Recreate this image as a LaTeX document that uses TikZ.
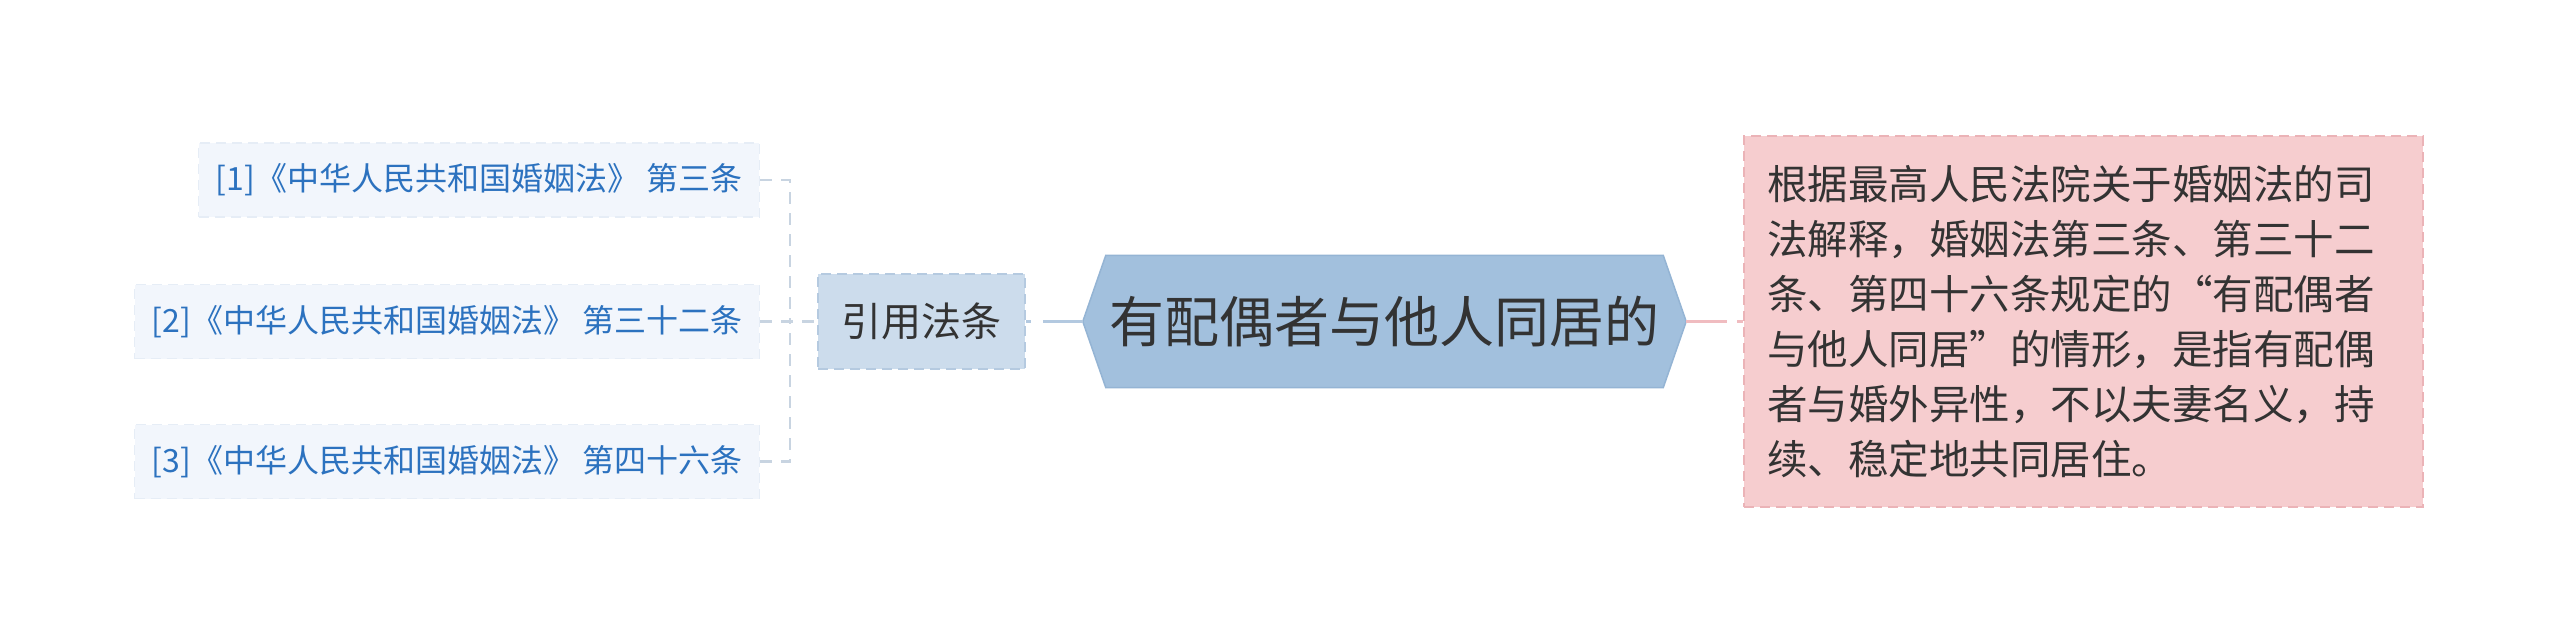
\documentclass[tikz,border=0pt]{standalone}
\usepackage{fontspec}
\setmainfont{Noto Sans CJK SC}
\usetikzlibrary{backgrounds}
\definecolor{itemfill}{HTML}{F2F6FC}
\definecolor{itemborder}{HTML}{E6EDF6}
\definecolor{itemtext}{HTML}{2C72BF}
\definecolor{citefill}{HTML}{CCDCEC}
\definecolor{citeborder}{HTML}{B5CAE0}
\definecolor{hexfill}{HTML}{A2C0DD}
\definecolor{hexborder}{HTML}{94B4D4}
\definecolor{pinkfill}{HTML}{F6CDCF}
\definecolor{pinkborder}{HTML}{EBB3B7}
\definecolor{lconn}{HTML}{C8D4E1}
\definecolor{bconn}{HTML}{B3C9E0}
\definecolor{pconn}{HTML}{F0BCC0}
\definecolor{darktext}{HTML}{333333}
\begin{document}
\begin{tikzpicture}[x=1pt,y=-1pt,
  boxdash/.style={dash pattern=on 10pt off 6pt},
  itembox/.style={fill=itemfill, draw=itemborder, boxdash, line width=1.5pt,
    text=itemtext, font=\fontsize{32}{36}\selectfont, inner xsep=17pt,
    inner ysep=0pt, minimum height=74pt, anchor=east},
  citebox/.style={fill=citefill, draw=citeborder, boxdash, line width=2pt,
    text=darktext, font=\fontsize{40}{46}\selectfont, inner sep=0pt,
    minimum width=207pt, minimum height=95pt},
  hexnode/.style={text=darktext, font=\fontsize{55}{60}\selectfont, inner sep=0pt,
    minimum width=603pt, minimum height=132pt},
  pinkbox/.style={fill=pinkfill, draw=pinkborder, boxdash, line width=2pt,
    text=darktext, font=\fontsize{40.5}{55}\selectfont, align=left,
    text width=633pt, inner xsep=23pt, inner ysep=0pt,
    minimum width=679pt, minimum height=371pt},
  lconnst/.style={draw=lconn, line width=2.5pt, dash pattern=on 12pt off 9pt},
  bconnst/.style={draw=bconn, line width=3pt, dash pattern=on 40pt off 12pt},
  pconnst/.style={draw=pconn, line width=3pt, dash pattern=on 41pt off 10pt}]
\useasboundingbox (0,0) rectangle (2560,643);

\node[itembox] (i1) at (760,180) {[1]《中华人民共和国婚姻法》 第三条};
\node[itembox] (i2) at (760,321.5) {[2]《中华人民共和国婚姻法》 第三十二条};
\node[itembox] (i3) at (760,461.5) {[3]《中华人民共和国婚姻法》 第四十六条};

\node[citebox] (cite) at (921.5,321.5) {引用法条};

\node[hexnode] (hex) at (1384.5,321.5) {有配偶者与他人同居的};
\begin{scope}[on background layer]
\fill[white] (0,0) rectangle (2560,643);
\filldraw[fill=hexfill, draw=hexborder, line width=1.5pt]
  (hex.west) -- ([xshift=23pt]hex.north west) -- ([xshift=-23pt]hex.north east)
  -- (hex.east) -- ([xshift=-23pt]hex.south east) -- ([xshift=23pt]hex.south west) -- cycle;
\end{scope}

\node[pinkbox] (desc) at (2083.5,321.5) {根据最高人民法院关于婚姻法的司\\法解释，婚姻法第三条、第三十二\\条、第四十六条规定的“有配偶者\\与他人同居”的情形，是指有配偶\\者与婚外异性，不以夫妻名义，持\\续、稳定地共同居住。};

\coordinate (j) at (790,321.5);
\draw[lconnst] (i1.east) -| (j);
\draw[lconnst] (i3.east) -| (j);
\draw[lconnst] (i2.east) -- (cite.west);
\draw[bconnst] (hex.west) -- (cite.east);
\draw[pconnst] (hex.east) -- (desc.west);
\end{tikzpicture}
\end{document}
